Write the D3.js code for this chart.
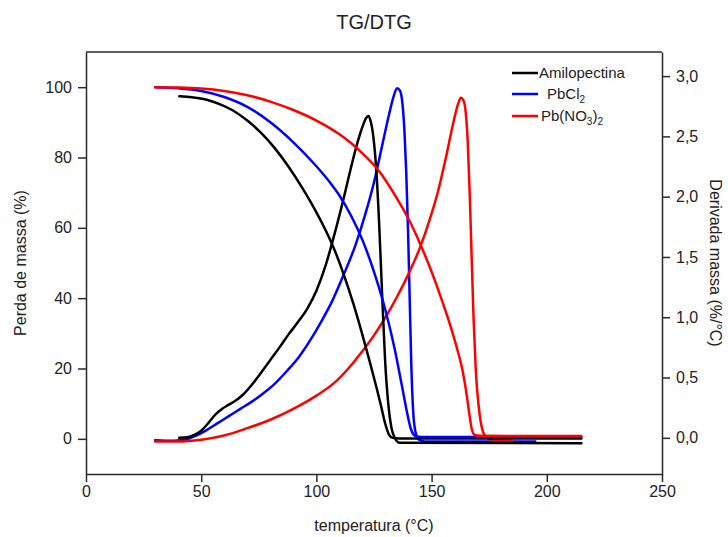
<!DOCTYPE html>
<html>
<head>
<meta charset="utf-8">
<script src="https://cdn.jsdelivr.net/npm/d3@7"></script>
<style>
  body { margin: 0; background: #fff; }
  text { font-family: "Liberation Sans", Arial, sans-serif; fill: #222; }
</style>
</head>
<body>
<svg id="chart" width="728" height="537"></svg>
<script>
// ---- TG curves: mass (%) against temperature (°C), left axis ----
const amiloTG_T = [40.5, 46, 52, 58, 64, 70, 76, 82, 88, 94, 100, 104, 108, 112, 116, 120, 123, 126, 128, 130, 131.5, 133, 136, 215];
const amiloTG   = [97.4, 97.1, 96.5, 95.2, 93.3, 90.5, 87, 82.6, 77.3, 71.2, 64.4, 59.3, 53.5, 46.5, 38.5, 29.5, 22.3, 14.8, 9.5, 4, 1.2, 0.3, 0.1, 0.1];

const pbclTG_T = [30, 40, 50, 60, 70, 80, 90, 100, 106, 110, 115, 120, 125, 130, 134, 137, 139.5, 141, 142.5, 144, 148, 215];
const pbclTG   = [100, 99.7, 98.9, 97.2, 94.4, 90, 84.3, 77.5, 72.8, 69.2, 63.5, 56.5, 47.5, 36.5, 25.5, 15.5, 7, 2.8, 1, 0.6, 0.5, 0.5];

const pbno3TG_T = [30, 40, 50, 60, 70, 80, 90, 100, 106, 110, 115, 120, 127, 135, 140, 145, 150, 154, 158, 161, 163.5, 165.3, 166.5, 167.5, 168.7, 171, 215];
const pbno3TG   = [100, 99.9, 99.6, 98.9, 97.7, 95.9, 93.5, 90.5, 88.3, 86.6, 84.1, 81.2, 76.3, 68.3, 62.5, 55.5, 47.5, 40.3, 32.5, 25.8, 19.2, 12.2, 6.5, 2.6, 1.1, 0.85, 0.8];

// ---- DTG curves: mass derivative (%/°C), right axis ----
const amiloDTG_T = [40.5, 44, 47, 50, 53, 56, 59, 62, 65, 68, 72, 76, 80, 84, 88, 92, 96, 100, 104, 108, 112, 115, 118, 120, 121.5, 122.5, 123.5, 124.7, 126, 127.3, 128.5, 129.8, 131.2, 132.5, 134, 136, 215];
const amiloDTG   = [0.0, 0.005, 0.025, 0.06, 0.12, 0.19, 0.24, 0.275, 0.31, 0.355, 0.44, 0.54, 0.645, 0.75, 0.86, 0.96, 1.07, 1.22, 1.43, 1.7, 2.0, 2.24, 2.46, 2.58, 2.65, 2.67, 2.63, 2.5, 2.22, 1.75, 1.2, 0.65, 0.28, 0.09, 0.0, -0.04, -0.045];

const pbclDTG_T = [30, 38, 44, 48, 52, 57, 62, 67, 72, 77, 82, 87, 92, 97, 102, 107, 112, 117, 121, 125, 128.5, 131.5, 133.5, 135, 136.3, 137.3, 138.2, 139, 139.8, 140.5, 141.2, 142, 143, 144.5, 147, 195];
const pbclDTG   = [-0.02, -0.025, -0.01, 0.02, 0.06, 0.12, 0.18, 0.24, 0.3, 0.37, 0.45, 0.55, 0.66, 0.8, 0.96, 1.14, 1.36, 1.6, 1.84, 2.12, 2.42, 2.68, 2.83, 2.9, 2.88, 2.78, 2.55, 2.2, 1.7, 1.15, 0.6, 0.22, 0.05, -0.015, -0.03, -0.03];

const pbno3DTG_T = [30, 40, 50, 60, 70, 80, 90, 100, 108, 115, 120, 125, 130, 135, 140, 145, 149, 153, 156.5, 159.5, 161.5, 162.7, 163.8, 164.8, 165.7, 166.5, 167.3, 168.2, 169.2, 170.5, 172, 174, 177, 185];
const pbno3DTG   = [-0.03, -0.03, -0.015, 0.02, 0.08, 0.15, 0.24, 0.35, 0.46, 0.6, 0.72, 0.85, 1.0, 1.17, 1.36, 1.58, 1.8, 2.06, 2.35, 2.62, 2.77, 2.82, 2.8, 2.7, 2.45, 2.05, 1.55, 1.0, 0.55, 0.25, 0.07, 0.0, -0.02, -0.025];

// ---- axis ticks and labels ----
const xTicks = [0, 50, 100, 150, 200, 250];
const tgTicks = [0, 20, 40, 60, 80, 100];
const dtgTicks = [0, 0.5, 1.0, 1.5, 2.0, 2.5, 3.0];
const legendNames = ["Amilopectina", "PbCl2", "Pb(NO3)2"];
const seriesColors = ["#000000", "#0000ff", "#ff0000"];

const svg = d3.select("#chart");
const plotLeft = 86, plotRight = 662, plotTop = 52, plotBottom = 474;

const x = d3.scaleLinear().domain([0, 250]).range([plotLeft, plotRight]);
const yL = d3.scaleLinear().domain([-10, 110]).range([plotBottom, plotTop]);
const yR = d3.scaleLinear().domain([-0.3, 3.2]).range([plotBottom, plotTop]);

const axisColor = "#2a2a2a";

// frame top edge
svg.append("line").attr("x1", plotLeft).attr("x2", plotRight).attr("y1", plotTop).attr("y2", plotTop)
  .attr("stroke", axisColor).attr("stroke-width", 1.5);

function styleAxis(g) {
  g.selectAll("path.domain").attr("stroke", axisColor).attr("stroke-width", 1.5);
  g.selectAll(".tick line").attr("stroke", axisColor).attr("stroke-width", 1.5);
  g.selectAll(".tick text").style("font-size", "16px").style("font-family", "'Liberation Sans', Arial, sans-serif").attr("fill", "#222");
}

svg.append("g").attr("transform", `translate(0,${plotBottom})`)
  .call(d3.axisBottom(x).tickValues(xTicks).tickSize(8).tickSizeOuter(0).tickPadding(4))
  .call(styleAxis);

svg.append("g").attr("transform", `translate(${plotLeft},0)`)
  .call(d3.axisLeft(yL).tickValues(tgTicks).tickSize(8).tickSizeOuter(0).tickPadding(6))
  .call(styleAxis);

svg.append("g").attr("transform", `translate(${plotRight},0)`)
  .call(d3.axisRight(yR).tickValues(dtgTicks).tickSize(8).tickSizeOuter(0).tickPadding(6)
    .tickFormat(d => d.toFixed(1).replace(".", ",")))
  .call(styleAxis);

// titles
svg.append("text").attr("x", 374).attr("y", 29).attr("text-anchor", "middle")
  .style("font-size", "20px").text("TG/DTG");

svg.append("text").attr("x", 374).attr("y", 525).attr("text-anchor", "middle")
  .attr("dominant-baseline", "central").style("font-size", "16px").text("temperatura (°C)");

svg.append("text").attr("transform", "translate(20,263) rotate(-90)").attr("text-anchor", "middle")
  .attr("dominant-baseline", "central").style("font-size", "16px").text("Perda de massa (%)");

svg.append("text").attr("transform", "translate(715,263) rotate(90)").attr("text-anchor", "middle")
  .attr("dominant-baseline", "central").style("font-size", "16px").text("Derivada massa (%/°C)");

// curves
const plot = svg.append("g");
function drawCurve(ts, vs, yScale, color) {
  const pts = ts.map((t, i) => [t, vs[i]]);
  const line = d3.line().x(d => x(d[0])).y(d => yScale(d[1])).curve(d3.curveMonotoneX);
  plot.append("path").datum(pts).attr("d", line)
    .attr("fill", "none").attr("stroke", color).attr("stroke-width", 2.5)
    .attr("stroke-linejoin", "round").attr("stroke-linecap", "round");
}

drawCurve(pbclDTG_T, pbclDTG, yR, seriesColors[1]);
drawCurve(pbno3DTG_T, pbno3DTG, yR, seriesColors[2]);
drawCurve(amiloDTG_T, amiloDTG, yR, seriesColors[0]);
drawCurve(amiloTG_T, amiloTG, yL, seriesColors[0]);
drawCurve(pbclTG_T, pbclTG, yL, seriesColors[1]);
drawCurve(pbno3TG_T, pbno3TG, yL, seriesColors[2]);

// legend
const legend = svg.append("g");
const legendRows = [
  { y: 73, textX: 539, base: 78, parts: [["Amilopectina", false]] },
  { y: 94, textX: 547, base: 99, parts: [["PbCl", false], ["2", true]] },
  { y: 116, textX: 541, base: 121, parts: [["Pb(NO", false], ["3", true], [")", false], ["2", true]] }
];
legendRows.forEach((row, i) => {
  legend.append("line").attr("x1", 512).attr("x2", 538).attr("y1", row.y).attr("y2", row.y)
    .attr("stroke", seriesColors[i]).attr("stroke-width", 2.5);
  const t = legend.append("text").attr("x", row.textX).attr("y", row.base).style("font-size", "15px")
    .attr("aria-label", legendNames[i]);
  let sub = false;
  row.parts.forEach(([s, isSub]) => {
    const ts = t.append("tspan").text(s);
    if (isSub && !sub) { ts.attr("dy", 4).style("font-size", "10px"); sub = true; }
    else if (isSub && sub) { ts.style("font-size", "10px"); }
    else if (!isSub && sub) { ts.attr("dy", -4); sub = false; }
  });
});
</script>
</body>
</html>
